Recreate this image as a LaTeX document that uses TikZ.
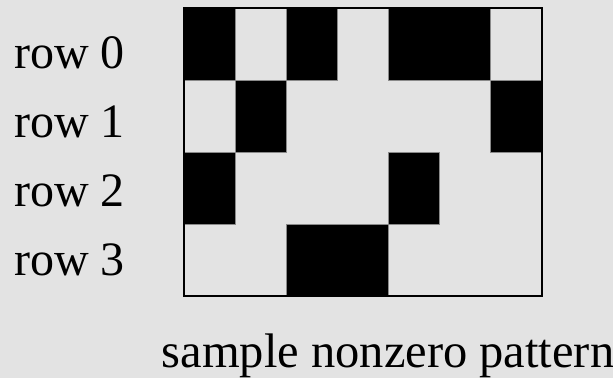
\documentclass[tikz,border=0pt]{standalone}
\usepackage{fontspec}
\setmainfont{Liberation Serif}
\definecolor{bg}{HTML}{E3E3E3}
\definecolor{cellline}{HTML}{8A8A8A}
\tikzset{
  lbl/.style={anchor=base west,inner sep=0pt,font=\fontsize{48}{56}\selectfont},
  captiontext/.style={anchor=base,inner sep=0pt,font=\fontsize{48.5}{56}\selectfont},
  cell/.style={fill=black,draw=cellline,line width=0.7pt},
  frame/.style={draw=black,line width=2pt}
}
\begin{document}
\begin{tikzpicture}[x=1pt,y=-1pt]
\fill[bg] (0,0) rectangle (613,378);
\useasboundingbox (0,0) rectangle (613,378);
\def\cw{51.14}
\foreach \r/\c/\n in {0/0/1,0/2/1,0/4/2,1/1/1,1/6/1,2/0/1,2/4/1,3/2/2}{
  \draw[cell] ({184+\c*\cw},{8+\r*72}) rectangle ({184+(\c+\n)*\cw},{8+(\r+1)*72});
}
\draw[frame] (184,8) rectangle (542,296);
\node[lbl] (r0) at (14,68) {row 0};
\node[lbl] (r1) at (14,137) {row 1};
\node[lbl] (r2) at (14,206) {row 2};
\node[lbl] (r3) at (14,275) {row 3};
\node[captiontext] (caption) at (388,367) {sample nonzero pattern};
\end{tikzpicture}
\end{document}
